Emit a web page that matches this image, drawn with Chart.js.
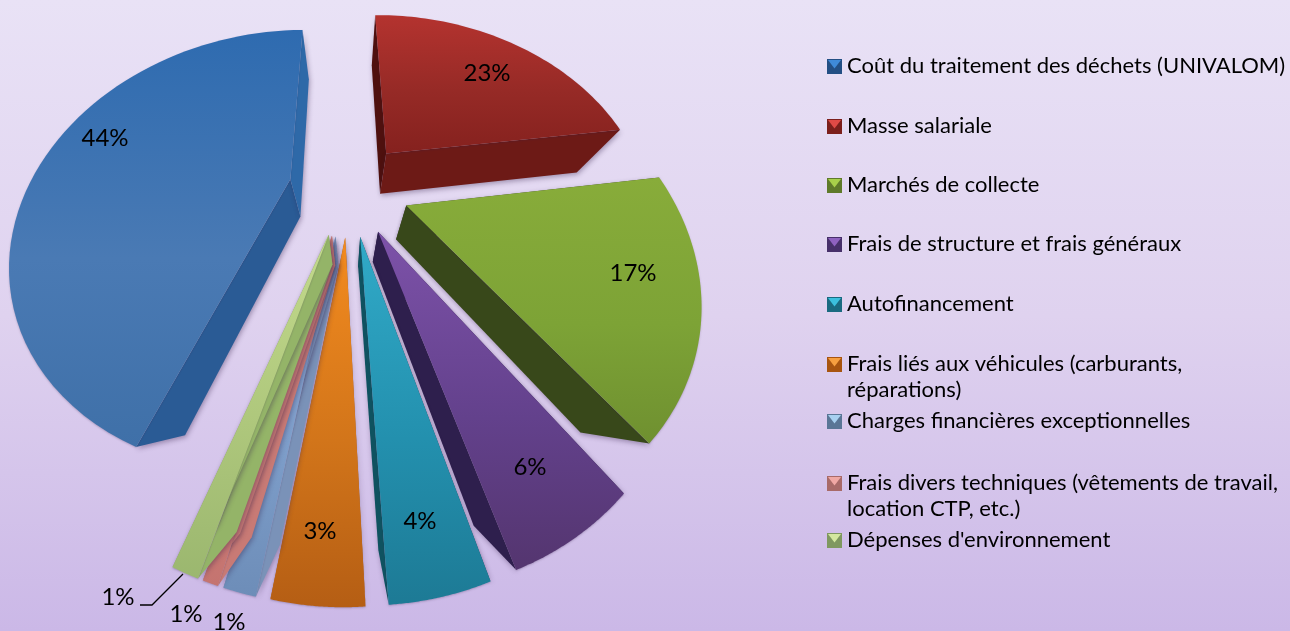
<!DOCTYPE html>
<html lang="fr">
<head>
<meta charset="utf-8">
<title>Répartition des coûts</title>
<style>
html,body{margin:0;padding:0;width:1290px;height:631px;overflow:hidden;
background:linear-gradient(180deg,#e9e2f6 0%,#dfd2ef 50%,#cbb8e7 100%);}
canvas{display:block;}
</style>
<script src="https://cdn.jsdelivr.net/npm/chart.js@4"></script>
</head>
<body>
<canvas id="c" width="1290" height="631"></canvas>
<script>
const categories = [
  "Coût du traitement des déchets (UNIVALOM)",
  "Masse salariale",
  "Marchés de collecte",
  "Frais de structure et frais généraux",
  "Autofinancement",
  "Frais liés aux véhicules (carburants, réparations)",
  "Charges financières exceptionnelles",
  "Frais divers techniques (vêtements de travail, location CTP, etc.)",
  "Dépenses d'environnement"
];
const values = [44.22, 23, 17, 5.5, 3.87, 3.47, 1.25, 0.61, 1.08];

const faceTop = ["#2e6bb0","#b4332f","#88ac3a","#7d52a9","#31aac8","#f38b1f","#90b1de","#e28681","#c3da8c"];
const faceMid = ["#4a7ab4","#962a26","#7da336","#63418c","#2390ae","#d2751a","#7f9fcb","#d27d78","#aec77c"];
const faceBot = ["#3f70a8","#85211e","#6f9030","#54356f","#1d7a95","#b55e14","#6d8db8","#c47470","#9bb76f"];
const wallStart = ["#2a5b95","#4e100e","#38481a","#2e1f4d","#0f5260","#b86a18","#7a92b8","#c87a75","#94b468"];
const wallEnd   = ["#2e69a8","#6d1a16","#38481a","#2e1f4d","#0f5260","#b86a18","#7a92b8","#c87a75","#94b468"];
const swatchDark = ["#234f84","#7c1f1c","#5f7a2a","#47306a","#1a6a80","#a85510","#5a7696","#a86a68","#7f9860"];
const swatchLight = ["#3f8ad8","#e04a46","#a8d04a","#8f62c0","#3cc0de","#f7a040","#a8d0f0","#f0a8a4","#d4e8a0"];

/* percent label anchors (text centres) */
const labelX = [105,487,633,530,420,320,229,186,118];
const labelY = [138, 73,273,467,521,531,622,614,597];
const legendY = [66,126,185,244,304,364,421,483,540];

/* projection of the tilted, exploded pie, relative to the arc radius */
const EXPLODE = 0.23, PERSP = 0.33, SCALE_X = 1.401, SCALE_Y = 1.086;
const DEPTH_W = 0.21, DEPTH_Y = 0.235;

const ArcEl = Chart.ArcElement || Chart.elements.ArcElement;
ArcEl.prototype.draw = function (ctx) {
  const {x, y, startAngle, endAngle, outerRadius: R} =
    this.getProps(['x','y','startAngle','endAngle','outerRadius']);
  const i = this.$context ? this.$context.dataIndex : 0;
  const mid = (startAngle + endAngle) / 2;
  const ox = Math.cos(mid) * EXPLODE, oy = Math.sin(mid) * EXPLODE;
  const project = (X, Y, low) => {
    const w = 1 - PERSP * Y + (low ? DEPTH_W : 0);
    return [x + R * SCALE_X * X / w,
            y + R * (SCALE_Y * Y + (low ? DEPTH_Y : 0)) / w];
  };
  const rim = (a, low) => project(ox + Math.cos(a), oy + Math.sin(a), low);
  const apexTop = project(ox, oy, false), apexLow = project(ox, oy, true);

  const poly = (pts, fill) => {
    ctx.beginPath();
    pts.forEach((p, k) => k ? ctx.lineTo(p[0], p[1]) : ctx.moveTo(p[0], p[1]));
    ctx.closePath();
    ctx.fillStyle = fill;
    ctx.fill();
  };

  ctx.save();
  ctx.shadowColor = 'rgba(50,30,70,0.38)';
  ctx.shadowBlur = 5;
  ctx.shadowOffsetX = 1;
  ctx.shadowOffsetY = 2;
  poly([apexTop, rim(startAngle,false), rim(startAngle,true), apexLow], wallStart[i]);
  poly([apexTop, rim(endAngle,false), rim(endAngle,true), apexLow], wallEnd[i]);

  const steps = 60, pts = [apexTop];
  for (let s = 0; s <= steps; s++) {
    pts.push(rim(startAngle + (endAngle - startAngle) * s / steps, false));
  }
  const ys = pts.map(p => p[1]);
  const g = ctx.createLinearGradient(0, Math.min(...ys), 0, Math.max(...ys));
  g.addColorStop(0, faceTop[i]);
  g.addColorStop(0.55, faceMid[i]);
  g.addColorStop(1, faceBot[i]);
  ctx.shadowColor = 'rgba(50,30,70,0.25)';
  ctx.shadowBlur = 2;
  ctx.shadowOffsetX = 0;
  ctx.shadowOffsetY = 1;
  poly(pts, g);
  ctx.restore();
};

const LABEL_FONT = '24px Lato, "Open Sans", sans-serif';
const LEGEND_FONT = '22px Lato, "Open Sans", sans-serif';

const annotate = {
  id: 'annotate',
  afterDraw(chart) {
    const ctx = chart.ctx;
    ctx.save();
    ctx.fillStyle = '#000';
    ctx.font = LABEL_FONT;
    ctx.textAlign = 'center';
    ctx.textBaseline = 'middle';
    values.forEach((v, i) => ctx.fillText(Math.round(v) + '%', labelX[i], labelY[i]));

    ctx.strokeStyle = '#000';
    ctx.lineWidth = 1.3;
    ctx.beginPath();
    ctx.moveTo(140, 605); ctx.lineTo(152, 605); ctx.lineTo(183, 574);
    ctx.stroke();

    ctx.textAlign = 'left';
    ctx.font = LEGEND_FONT;
    categories.forEach((label, i) => {
      const yc = legendY[i], bx = 827, by = yc - 7, s = 15;
      ctx.fillStyle = swatchDark[i];
      ctx.fillRect(bx, by, s, s);
      ctx.fillStyle = swatchLight[i];
      ctx.beginPath();
      ctx.moveTo(bx + 1, by + 1); ctx.lineTo(bx + s - 1, by + 1); ctx.lineTo(bx + s / 2, by + s / 2 + 2);
      ctx.closePath(); ctx.fill();

      ctx.fillStyle = '#000';
      const words = label.split(' ');
      let line = '', row = 0;
      const flush = () => { ctx.fillText(line, 847, yc + row * 25.5); row++; };
      words.forEach(w => {
        const t = line ? line + ' ' + w : w;
        if (ctx.measureText(t).width > 443 && line) { flush(); line = w; }
        else line = t;
      });
      flush();
    });
    ctx.restore();
  }
};

new Chart(document.getElementById('c'), {
  type: 'pie',
  data: {
    labels: categories,
    datasets: [{ data: values, backgroundColor: faceMid, borderWidth: 0 }]
  },
  options: {
    responsive: false,
    animation: false,
    rotation: 200.16,
    layout: { padding: { left: 0, top: 0, right: 592, bottom: 257 } },
    plugins: { legend: { display: false }, tooltip: { enabled: false } }
  },
  plugins: [annotate]
});
</script>
</body>
</html>
